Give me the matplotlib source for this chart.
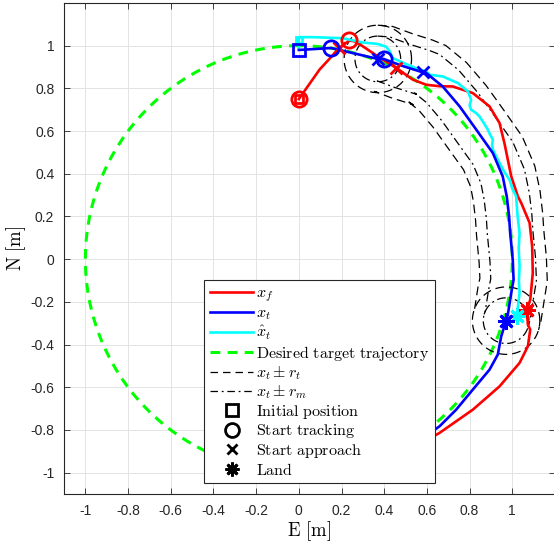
import numpy as np
import matplotlib
matplotlib.use('Agg')
import matplotlib.pyplot as plt
from matplotlib.lines import Line2D

plt.rcParams['mathtext.fontset'] = 'cm'
plt.rcParams['axes.unicode_minus'] = False

## donnees lues sur la figure
# x_f (drone)
xf_E = [0.0, 0.097, 0.19, 0.237, 0.262, 0.30, 0.37, 0.456, 0.534, 0.597, 0.66, 0.721, 0.815, 0.893,
        0.94, 0.963, 0.979, 0.995, 1.026, 1.042, 1.081, 1.093, 1.096, 1.084, 1.068, 1.073, 1.084,
        1.073, 1.034, 0.94, 0.815, 0.659, 0.62, 0.5, 0.42]
xf_N = [0.75, 0.888, 0.989, 1.025, 1.02, 0.997, 0.95, 0.896, 0.841, 0.817, 0.81, 0.809, 0.778, 0.716,
        0.638, 0.544, 0.466, 0.388, 0.294, 0.263, 0.17, 0.06, -0.065, -0.19, -0.24, -0.307, -0.33,
        -0.408, -0.486, -0.596, -0.705, -0.814, -0.836, -0.9, -0.94]

# x_t (cible)
xt_E = [0.0, 0.152, 0.37, 0.397, 0.48, 0.581, 0.597, 0.674, 0.753, 0.831, 0.909, 0.955, 0.974,
        0.985, 0.99, 1.002, 1.006, 0.995, 0.979, 0.971, 0.948, 0.932, 0.893, 0.815, 0.737, 0.659,
        0.62, 0.5, 0.4]
xt_N = [0.98, 0.989, 0.938, 0.938, 0.907, 0.875, 0.872, 0.809, 0.716, 0.607, 0.497, 0.388, 0.294,
        0.2, 0.123, -0.002, -0.096, -0.158, -0.26, -0.288, -0.362, -0.447, -0.518, -0.611, -0.705,
        -0.783, -0.81, -0.88, -0.93]

# x_t estime
xh_E = [0.0, 0.0, 0.066, 0.206, 0.30, 0.37, 0.409, 0.425, 0.44, 0.5, 0.565, 0.597, 0.612, 0.674,
        0.745, 0.792, 0.807, 0.8, 0.807, 0.83, 0.846, 0.865, 0.885, 0.895, 0.909, 0.905, 0.909,
        0.925, 0.94, 0.962, 0.987, 1.0, 1.018, 1.025, 1.034, 1.03, 1.034, 1.031, 1.034, 1.021]
xh_N = [0.99, 1.04, 1.04, 1.035, 1.015, 1.008, 0.995, 0.975, 0.942, 0.915, 0.888, 0.88, 0.864, 0.856,
        0.825, 0.786, 0.747, 0.72, 0.70, 0.685, 0.669, 0.64, 0.607, 0.585, 0.56, 0.535, 0.513,
        0.48, 0.451, 0.41, 0.372, 0.33, 0.294, 0.2, 0.123, 0.05, -0.034, -0.1, -0.158, -0.268]

# trajectoire desiree : cercle unite
R_des = 1.0
theta_des = np.linspace(0, 2 * np.pi, 400)

# rayons du tube
r_t = 0.158
r_m = 0.107
i_app, i_land = 2, 19  # debut approche / atterrissage sur x_t

# marqueurs
f_init = (0.0, 0.75); f_track = [(0.0, 0.75), (0.237, 1.025)]; f_app = [(0.19, 0.989), (0.456, 0.896)]; f_land = (1.068, -0.24)
t_init = (0.0, 0.98); t_track = [(0.152, 0.989), (0.397, 0.938)]; t_app = [(0.37, 0.938), (0.581, 0.875)]; t_land = (0.971, -0.288)
h_init = (0.003, 1.025); h_land = (1.021, -0.268)

ticks = [-1, -0.8, -0.6, -0.4, -0.2, 0, 0.2, 0.4, 0.6, 0.8, 1]
tick_labels = ['-1', '-0.8', '-0.6', '-0.4', '-0.2', '0', '0.2', '0.4', '0.6', '0.8', '1']

## trace
fig = plt.figure(figsize=(5.54, 5.43), dpi=100)
ax = fig.add_axes([64 / 554, 49 / 543, 491 / 554, 491 / 543])

red = '#ff0000'
blue = '#0000ff'
cyan = '#00ffff'
green = '#00ff00'

ax.plot(R_des * np.cos(theta_des + np.pi / 2), R_des * np.sin(theta_des + np.pi / 2),
        '--', color=green, lw=2.2, dashes=(3.2, 2.4), zorder=2)

# tube autour de x_t
sE = np.array(xt_E[i_app:i_land + 1])
sN = np.array(xt_N[i_app:i_land + 1])
dE = np.gradient(sE)
dN = np.gradient(sN)
nrm = np.hypot(dE, dN)
nE, nN = -dN / nrm, dE / nrm
circ = np.linspace(0, 2 * np.pi, 200)
for r, ls in [(r_t, (0, (7, 4))), (r_m, (0, (7, 3, 1.5, 3)))]:
    for s in (1, -1):
        ax.plot(sE + s * r * nE, sN + s * r * nN, color='k', lw=0.9, linestyle=ls, zorder=3)
    for cE, cN in [(sE[0], sN[0]), (sE[-1], sN[-1])]:
        ax.plot(cE + r * np.cos(circ), cN + r * np.sin(circ), color='k', lw=0.9, linestyle=ls, zorder=3)

ax.plot(xf_E, xf_N, color=red, lw=1.9, zorder=4)
ax.plot(xh_E, xh_N, color=cyan, lw=1.9, zorder=5)
ax.plot(xt_E, xt_N, color=blue, lw=1.9, zorder=6)

mk = dict(linestyle='none', mew=2.0, mfc='none')
ax.plot(*f_init, marker='s', ms=6, mec=red, zorder=7, **mk)
for p in f_track:
    ax.plot(*p, marker='o', ms=11, mec=red, zorder=7, **mk)
for p in f_app:
    ax.plot(*p, marker='x', ms=9, mec=red, zorder=7, **mk)
ax.plot(*f_land, marker=(8, 2, 0), ms=12, mec=red, zorder=7, **mk)

ax.plot(*h_init, marker='s', ms=5, mec=cyan, zorder=7, **mk)
ax.plot(*h_land, marker=(8, 2, 0), ms=12, mec=cyan, zorder=7, **mk)

ax.plot(*t_init, marker='s', ms=8.5, mec=blue, zorder=8, **mk)
for p in t_track:
    ax.plot(*p, marker='o', ms=11, mec=blue, zorder=8, **mk)
for p in t_app:
    ax.plot(*p, marker='x', ms=9, mec=blue, zorder=8, **mk)
ax.plot(*t_land, marker=(8, 2, 0), ms=12, mec=blue, zorder=8, **mk)

ax.set_xlim(-1.1, 1.2)
ax.set_ylim(-1.1, 1.2)
ax.set_xticks(ticks)
ax.set_yticks(ticks)
ax.set_xticklabels(tick_labels, fontfamily='Liberation Sans', fontsize=10, color='#262626')
ax.set_yticklabels(tick_labels, fontfamily='Liberation Sans', fontsize=10, color='#262626')
ax.tick_params(direction='in', length=4, width=0.6, top=True, right=True, color='#262626', pad=7)
ax.grid(True, color='#e3e3e3', lw=0.7)
ax.set_axisbelow(True)
for sp in ax.spines.values():
    sp.set_color('#262626')
    sp.set_linewidth(0.8)

ax.set_xlabel(r'$\mathrm{E\ [m]}$', fontsize=13.5, labelpad=1)
ax.set_ylabel(r'$\mathrm{N\ [m]}$', fontsize=13.5, labelpad=2)

handles = [
    Line2D([], [], color=red, lw=1.9),
    Line2D([], [], color=blue, lw=1.9),
    Line2D([], [], color=cyan, lw=1.9),
    Line2D([], [], color=green, lw=2.2, linestyle='--', dashes=(3.2, 2.4)),
    Line2D([], [], color='k', lw=0.9, linestyle=(0, (6, 4))),
    Line2D([], [], color='k', lw=0.9, linestyle=(0, (6, 3, 1.5, 3))),
    Line2D([], [], color='k', marker='s', ms=8, mew=2, mfc='none', linestyle='none'),
    Line2D([], [], color='k', marker='o', ms=10, mew=2, mfc='none', linestyle='none'),
    Line2D([], [], color='k', marker='x', ms=7, mew=2, linestyle='none'),
    Line2D([], [], color='k', marker=(8, 2, 0), ms=10, mew=2, linestyle='none'),
]
labels = [r'$x_f$', r'$x_t$', r'$\hat{x}_t$', r'$\mathrm{Desired\ target\ trajectory}$',
          r'$x_t \pm r_t$', r'$x_t \pm r_m$', r'$\mathrm{Initial\ position}$',
          r'$\mathrm{Start\ tracking}$', r'$\mathrm{Start\ approach}$', r'$\mathrm{Land}$']
leg = ax.legend(handles, labels, loc='lower left', bbox_to_anchor=(0.286, 0.022), fontsize=11.5,
                frameon=True, fancybox=False, framealpha=1, edgecolor='#262626',
                handlelength=2.7, handletextpad=0.2, labelspacing=0.1, borderpad=0.35,
                borderaxespad=0)
leg.get_frame().set_linewidth(0.8)
leg.set_zorder(20)

fig.savefig('out.png', dpi=100)
